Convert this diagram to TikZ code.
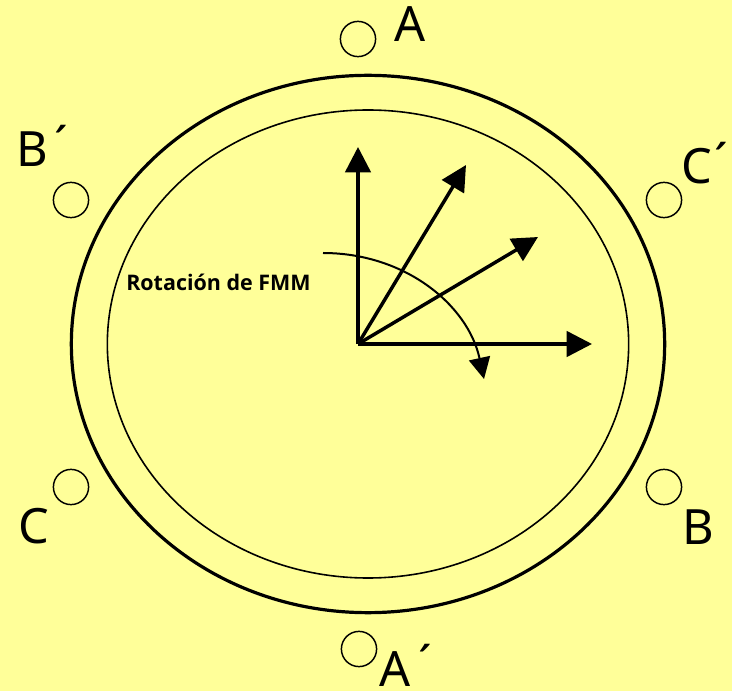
\documentclass[tikz,border=0pt]{standalone}
\usepackage{fontspec}
\setmainfont{Noto Sans}
\newfontfamily\rotfont{Open Sans}
\usetikzlibrary{arrows.meta,shapes.geometric}
\definecolor{bgy}{HTML}{FFFF99}
\newcommand{\primemark}[1]{\kern#1\raisebox{3.5pt}{´}}
\tikzset{
 slot/.style={draw=black,circle,line width=1.1pt,minimum size=26.4pt,inner sep=0pt},
 lab/.style={font=\fontsize{36.5}{40}\selectfont,inner sep=0pt},
 vec/.style={line width=2.6pt,-{Triangle[length=19pt,width=19pt]}},
}
\begin{document}
\begin{tikzpicture}[x=0.75pt,y=-0.75pt]
\useasboundingbox (0,0) rectangle (732,691);
\fill[bgy] (0,0) rectangle (732,691);
\node[draw=black,ellipse,line width=2.4pt,minimum width=445pt,minimum height=403pt,inner sep=0pt] (outer) at (368,344) {};
\node[draw=black,ellipse,line width=1.2pt,minimum width=391pt,minimum height=351pt,inner sep=0pt] (inner) at (368,344) {};
\node[slot] (sa) at (358,39) {};
\node[slot] (sbp) at (71,200) {};
\node[slot] (scp) at (664,200) {};
\node[slot] (sc) at (71,487) {};
\node[slot] (sb) at (664,487) {};
\node[slot] (sap) at (359,649) {};
\node[lab,anchor=base] (la) at (410.5,42) {A};
\node[lab,anchor=base west] (lbp) at (16,167) {B\primemark{5pt}};
\node[lab,anchor=base west] (lcp) at (681,184) {C\primemark{2pt}};
\node[lab,anchor=base] (lc) at (33.5,543) {C};
\node[lab,anchor=base] (lb) at (698,544) {B};
\node[lab,anchor=base west] (lap) at (379,686.5) {A\primemark{6pt}};
\coordinate (o) at (358,344);
\coordinate (v1) at (358,147);
\coordinate (v2) at (466,165);
\coordinate (v3) at (538,237);
\coordinate (v4) at (592,344);
\draw[vec] (o) -- (v1);
\draw[vec] (o) -- (v2);
\draw[vec] (o) -- (v3);
\draw[vec] (o) -- (v4);
\coordinate (r0) at (323,253);
\coordinate (r1) at (484,379);
\draw[line width=1.5pt,-{Triangle[length=16pt,width=16pt]}] (r0) .. controls (405,253) and (468,305) .. (r1);
\node[font=\rotfont\bfseries\fontsize{16.1}{18}\selectfont,inner sep=0pt] (rot) at (218.5,282) {Rotación de FMM};
\end{tikzpicture}
\end{document}
